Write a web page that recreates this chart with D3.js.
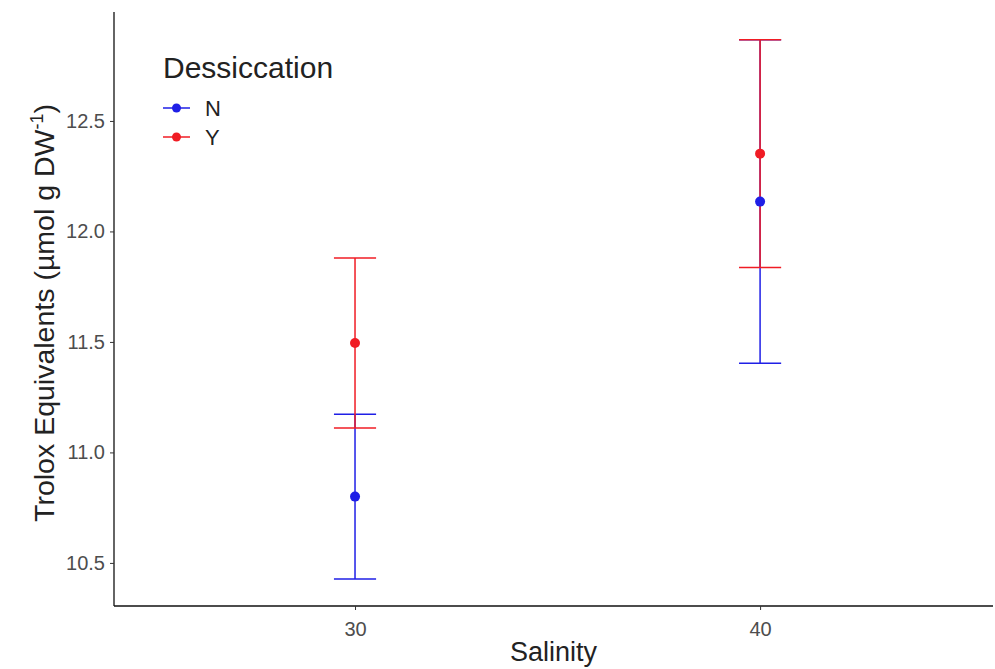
<!DOCTYPE html>
<html>
<head>
<meta charset="utf-8">
<title>Trolox Equivalents by Salinity</title>
<script src="https://cdn.jsdelivr.net/npm/d3@7"></script>
<style>
  body { margin: 0; background: #fff; }
  svg text { font-family: "Liberation Sans", Arial, Helvetica, sans-serif; }
</style>
</head>
<body>
<script>
// data
var groups = ["N", "Y"];
var salinity = [30, 40];
var meanN = [10.80, 12.135];
var seN = [0.373, 0.732];
var meanY = [11.495, 12.352];
var seY = [0.385, 0.515];
var yTicks = [10.5, 11.0, 11.5, 12.0, 12.5];
var xTicks = [30, 40];
var colors = {N: "#1f1fe6", Y: "#f01c24"};

var width = 995, height = 669,
    plotLeft = 114, plotRight = 993, plotTop = 12, plotBottom = 606;

var x = d3.scaleLinear().domain([24.05, 45.75]).range([plotLeft, plotRight]);
var y = d3.scaleLinear().domain([10.305, 12.993]).range([plotBottom, plotTop]);

var rows = [];
groups.forEach(function(g){
    var m = g === "N" ? meanN : meanY,
        s = g === "N" ? seN : seY;
    salinity.forEach(function(sal, i){
        rows.push({group: g, x: sal, mean: m[i], lo: m[i] - s[i], hi: m[i] + s[i]});
    });
});

var svg = d3.select("body").append("svg")
    .attr("width", width).attr("height", height);

// axes
var yAxis = d3.axisLeft(y).tickValues(yTicks).tickFormat(d3.format(".1f")).tickSize(4).tickPadding(5);
var xAxis = d3.axisBottom(x).tickValues(xTicks).tickSize(4).tickPadding(12);

var gy = svg.append("g").attr("transform", "translate(" + plotLeft + ",0)").call(yAxis);
var gx = svg.append("g").attr("transform", "translate(0," + plotBottom + ")").call(xAxis);

[gy, gx].forEach(function(g){
    g.select(".domain").attr("stroke", "#111").attr("stroke-width", 1.3);
    g.selectAll(".tick line").attr("stroke", "#333").attr("stroke-width", 1);
    g.selectAll(".tick text").attr("fill", "#4d4d4d").style("font-size", "20px");
});
// plain axis lines, as in ggplot's theme_classic
gy.select(".domain").attr("d", "M0," + plotTop + "V" + plotBottom);
gx.select(".domain").attr("d", "M" + plotLeft + ",0H" + plotRight);

// error bars
var capHalf = 0.52;
var bars = svg.append("g").selectAll("g.bar")
    .data(rows).enter().append("g")
    .attr("stroke", function(d){ return colors[d.group]; })
    .attr("stroke-width", 1.5)
    .attr("fill", "none");

bars.append("line")
    .attr("x1", function(d){ return x(d.x); })
    .attr("x2", function(d){ return x(d.x); })
    .attr("y1", function(d){ return y(d.lo); })
    .attr("y2", function(d){ return y(d.hi); });
bars.append("line")
    .attr("x1", function(d){ return x(d.x - capHalf); })
    .attr("x2", function(d){ return x(d.x + capHalf); })
    .attr("y1", function(d){ return y(d.lo); })
    .attr("y2", function(d){ return y(d.lo); });
bars.append("line")
    .attr("x1", function(d){ return x(d.x - capHalf); })
    .attr("x2", function(d){ return x(d.x + capHalf); })
    .attr("y1", function(d){ return y(d.hi); })
    .attr("y2", function(d){ return y(d.hi); });

// points
svg.append("g").selectAll("circle")
    .data(rows).enter().append("circle")
    .attr("cx", function(d){ return x(d.x); })
    .attr("cy", function(d){ return y(d.mean); })
    .attr("r", 5)
    .attr("fill", function(d){ return colors[d.group]; });

// axis titles
svg.append("text")
    .attr("x", (plotLeft + plotRight) / 2).attr("y", 661)
    .attr("text-anchor", "middle")
    .style("font-size", "27px").attr("fill", "#222")
    .text("Salinity");

var yt = svg.append("text")
    .attr("transform", "translate(54," + ((plotTop + plotBottom) / 2 + 4) + ") rotate(-90)")
    .attr("text-anchor", "middle")
    .style("font-size", "28.5px").attr("fill", "#222");
yt.append("tspan").text("Trolox Equivalents (\u00b5mol g DW");
yt.append("tspan").attr("dy", -11).style("font-size", "18px").text("-1");
yt.append("tspan").attr("dy", 11).text(")");

// legend
var legend = svg.append("g").attr("transform", "translate(163,0)");
legend.append("text")
    .attr("x", 0).attr("y", 78)
    .style("font-size", "30px").attr("fill", "#222")
    .text("Dessiccation");

var items = legend.selectAll("g.item")
    .data(groups).enter().append("g")
    .attr("transform", function(d, i){ return "translate(0," + (108 + i * 29) + ")"; });
items.append("line")
    .attr("x1", 0).attr("x2", 27)
    .attr("stroke", function(d){ return colors[d]; })
    .attr("stroke-width", 1.5);
items.append("circle")
    .attr("cx", 13.5).attr("r", 4.5)
    .attr("fill", function(d){ return colors[d]; });
items.append("text")
    .attr("x", 42).attr("y", 8)
    .style("font-size", "22px").attr("fill", "#222")
    .text(function(d){ return d; });
</script>
</body>
</html>
